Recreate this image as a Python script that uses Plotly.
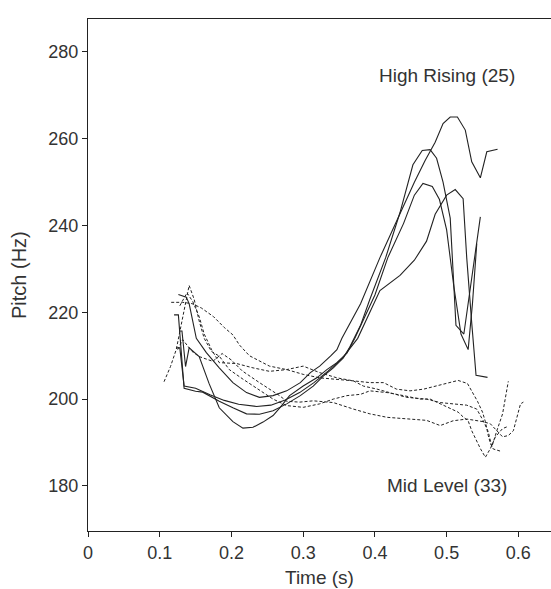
import plotly.graph_objects as go

# ---- High Rising tone (solid) ----
hr_a_t = [0.126, 0.137, 0.141, 0.151, 0.165, 0.183, 0.202, 0.221, 0.239, 0.258, 0.277, 0.296, 0.310, 0.323, 0.338, 0.347, 0.354, 0.380, 0.407, 0.430, 0.455, 0.470, 0.484, 0.495, 0.505, 0.515, 0.526, 0.535, 0.547, 0.556, 0.571]
hr_a_f = [224.1, 223.5, 222.0, 214.0, 210.7, 207.2, 203.8, 201.5, 200.4, 200.8, 201.9, 203.8, 206.1, 207.6, 209.9, 211.4, 214.0, 222.0, 232.6, 241.0, 250.0, 255.0, 259.2, 263.5, 265.0, 265.0, 262.0, 254.7, 251.0, 257.0, 257.6]

hr_b_t = [0.120, 0.126, 0.134, 0.150, 0.160, 0.183, 0.202, 0.221, 0.239, 0.258, 0.277, 0.296, 0.314, 0.328, 0.342, 0.356, 0.365, 0.380, 0.393, 0.415, 0.435, 0.453, 0.466, 0.477, 0.486, 0.495, 0.505, 0.509, 0.513, 0.524, 0.535, 0.547]
hr_b_f = [219.4, 219.4, 202.5, 201.8, 201.6, 199.5, 198.0, 196.6, 196.5, 197.3, 198.9, 200.8, 203.0, 205.3, 207.2, 209.5, 212.0, 217.0, 223.0, 232.6, 243.0, 254.0, 257.3, 257.5, 255.5, 250.0, 241.7, 228.0, 217.0, 215.0, 228.0, 242.0]

hr_c_t = [0.127, 0.131, 0.136, 0.141, 0.155, 0.169, 0.183, 0.202, 0.216, 0.230, 0.244, 0.258, 0.268, 0.281, 0.300, 0.319, 0.333, 0.347, 0.361, 0.372, 0.400, 0.418, 0.440, 0.455, 0.467, 0.480, 0.490, 0.500, 0.510, 0.520, 0.530, 0.536, 0.542]
hr_c_f = [215.7, 215.7, 207.5, 211.8, 209.8, 203.5, 198.0, 194.8, 193.3, 193.5, 194.7, 196.2, 198.1, 200.8, 203.0, 204.9, 206.8, 208.4, 210.6, 214.0, 224.0, 232.6, 240.5, 247.0, 249.7, 249.0, 246.0, 239.0, 226.0, 215.0, 211.4, 222.0, 235.8]

hr_d_t = [0.123, 0.128, 0.134, 0.150, 0.170, 0.190, 0.210, 0.235, 0.255, 0.275, 0.295, 0.315, 0.335, 0.355, 0.376, 0.407, 0.435, 0.455, 0.472, 0.484, 0.500, 0.512, 0.523, 0.528, 0.535, 0.541, 0.557]
hr_d_f = [211.8, 211.8, 203.0, 202.5, 201.0, 199.7, 198.8, 198.3, 198.6, 199.8, 201.5, 203.8, 206.5, 209.5, 214.0, 225.0, 228.5, 232.0, 236.4, 242.6, 247.0, 248.3, 246.2, 232.6, 217.5, 205.5, 205.0]

# ---- Mid Level tone (dashed) ----
ml_a_t = [0.116, 0.132, 0.145, 0.158, 0.175, 0.190, 0.202, 0.211, 0.225, 0.253, 0.277, 0.300, 0.323, 0.347, 0.370, 0.393, 0.412, 0.430, 0.449, 0.468, 0.477, 0.495, 0.516, 0.529, 0.535, 0.543, 0.550, 0.554, 0.558, 0.561, 0.565, 0.575]
ml_a_f = [222.3, 222.3, 222.0, 221.0, 219.0, 216.5, 214.8, 212.5, 210.0, 207.6, 206.8, 205.7, 204.9, 204.6, 204.2, 203.8, 203.8, 202.3, 201.9, 202.3, 202.7, 203.4, 204.3, 203.6, 201.8, 199.5, 197.0, 194.8, 191.6, 189.8, 188.5, 188.0]

ml_b_t = [0.128, 0.138, 0.146, 0.155, 0.162, 0.172, 0.183, 0.207, 0.230, 0.253, 0.277, 0.300, 0.323, 0.347, 0.370, 0.384, 0.403, 0.421, 0.444, 0.472, 0.491, 0.509, 0.528, 0.542, 0.551, 0.558, 0.563, 0.570, 0.578, 0.586]
ml_b_f = [221.5, 224.5, 222.5, 219.0, 215.0, 211.5, 208.4, 208.2, 207.2, 206.4, 206.8, 207.6, 206.1, 204.9, 204.2, 203.0, 202.3, 201.5, 200.4, 200.0, 199.2, 198.9, 198.6, 197.7, 195.0, 192.5, 189.0, 192.7, 196.6, 204.1]

ml_c_t = [0.106, 0.115, 0.123, 0.130, 0.136, 0.141, 0.148, 0.155, 0.162, 0.172, 0.183, 0.197, 0.216, 0.230, 0.244, 0.258, 0.277, 0.300, 0.323, 0.342, 0.361, 0.380, 0.393, 0.417, 0.440, 0.463, 0.477, 0.498, 0.516, 0.523, 0.530, 0.535, 0.540, 0.547, 0.554, 0.561, 0.568, 0.578, 0.584]
ml_c_f = [204.0, 207.5, 211.4, 217.0, 222.5, 226.2, 223.0, 218.0, 214.0, 211.0, 209.9, 206.8, 204.6, 203.0, 201.5, 200.0, 198.5, 198.1, 198.9, 200.0, 200.8, 201.1, 201.9, 201.5, 200.8, 200.0, 200.0, 198.4, 197.0, 195.9, 195.0, 192.7, 190.9, 188.6, 186.6, 188.6, 191.3, 193.2, 193.6]

ml_d_t = [0.125, 0.132, 0.145, 0.155, 0.174, 0.187, 0.200, 0.215, 0.239, 0.267, 0.277, 0.295, 0.314, 0.342, 0.370, 0.393, 0.417, 0.444, 0.472, 0.491, 0.509, 0.528, 0.542, 0.551, 0.561, 0.570, 0.578, 0.586, 0.593, 0.603, 0.607]
ml_d_f = [211.4, 213.7, 211.0, 209.8, 208.7, 210.5, 209.0, 206.5, 203.8, 200.8, 199.5, 199.3, 199.6, 199.2, 197.7, 196.6, 195.8, 195.4, 195.1, 193.9, 195.0, 195.4, 195.0, 194.8, 194.3, 192.7, 191.3, 191.6, 192.7, 198.9, 199.3]

x_ticks = [0, 0.1, 0.2, 0.3, 0.4, 0.5, 0.6]
x_tick_labels = ["0", "0.1", "0.2", "0.3", "0.4", "0.5", "0.6"]
y_ticks = [180, 200, 220, 240, 260, 280]
y_tick_labels = ["180", "200", "220", "240", "260", "280"]

solid = [(hr_a_t, hr_a_f), (hr_b_t, hr_b_f), (hr_c_t, hr_c_f), (hr_d_t, hr_d_f)]
dashed = [(ml_a_t, ml_a_f), (ml_b_t, ml_b_f), (ml_c_t, ml_c_f), (ml_d_t, ml_d_f)]

fig = go.Figure()
for t, f in dashed:
    fig.add_trace(go.Scatter(x=t, y=f, mode="lines",
                             line=dict(color="#222222", width=1, dash="3px,2px"),
                             showlegend=False, hoverinfo="skip"))
for t, f in solid:
    fig.add_trace(go.Scatter(x=t, y=f, mode="lines",
                             line=dict(color="#222222", width=1.1),
                             showlegend=False, hoverinfo="skip"))

font_family = "Liberation Sans, Arial, sans-serif"
txt = "#333333"
fig.add_annotation(x=0.50, y=274.5, text="High Rising (25)", showarrow=False,
                   font=dict(family=font_family, size=19, color=txt))
fig.add_annotation(x=0.50, y=180, text="Mid Level (33)", showarrow=False,
                   font=dict(family=font_family, size=19, color=txt))
# axis titles
fig.add_annotation(x=0.5, y=0, xref="paper", yref="paper", text="Time (s)",
                   showarrow=False, yanchor="middle", yshift=-46,
                   font=dict(family=font_family, size=19, color=txt))
fig.add_annotation(x=0, y=0.5, xref="paper", yref="paper", text="Pitch (Hz)",
                   showarrow=False, textangle=-90, xanchor="center", xshift=-69,
                   font=dict(family=font_family, size=20, color=txt))

fig.update_layout(
    width=551, height=589,
    margin=dict(l=88, r=0, t=19, b=58),
    plot_bgcolor="white", paper_bgcolor="white",
    font=dict(family=font_family, size=18, color=txt),
)
fig.update_xaxes(range=[0, 0.6455], tickvals=x_ticks, ticktext=x_tick_labels,
                 showgrid=False, zeroline=False, showline=True, linecolor="#222222",
                 linewidth=1, mirror=True, ticks="outside", ticklen=5, tickcolor="#222222",
                 tickfont=dict(size=18))
fig.update_yaxes(range=[169.6, 287.6], tickvals=y_ticks, ticktext=y_tick_labels,
                 showgrid=False, zeroline=False, showline=True, linecolor="#222222",
                 linewidth=1, ticks="outside", ticklen=5, tickcolor="#222222",
                 tickfont=dict(size=18))

fig.write_html("out.html", config={"displayModeBar": False},
               post_script="document.body.style.margin='0';document.body.style.overflow='hidden';")
